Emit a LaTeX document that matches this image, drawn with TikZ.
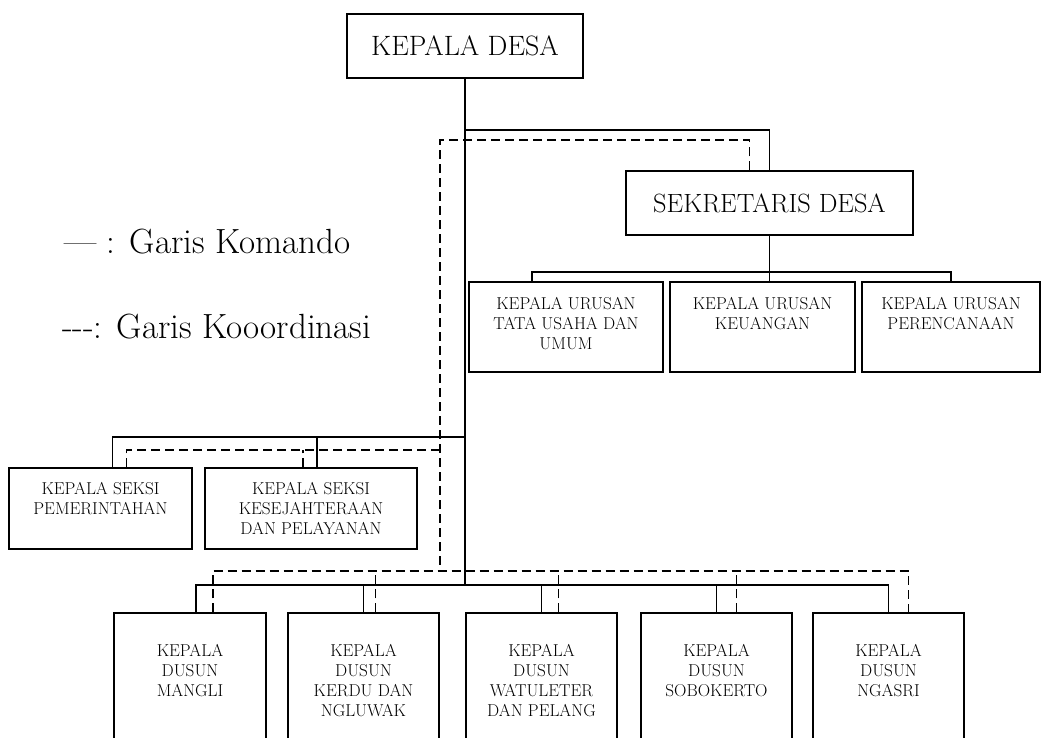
\documentclass[tikz,border=0pt]{standalone}
\usepackage{fontspec}
\usepackage{tikz}
\tikzstyle{unit}=[draw, line width=1.3pt, inner sep=0pt]
\tikzstyle{chief}=[unit, font=\fontsize{28}{33}\selectfont]
\tikzstyle{caption}=[anchor=north, inner sep=0pt, align=center, font=\fontsize{17.2}{20}\selectfont]
\tikzstyle{command}=[line width=1.3pt]
\tikzstyle{coord}=[line width=1.3pt, dash pattern=on 9pt off 5pt]
\tikzstyle{legend}=[anchor=base west, inner sep=0pt, font=\fontsize{35}{42}\selectfont]

\begin{document}
\begin{tikzpicture}[x=1pt, y=-1pt]
        \clip (0,0) rectangle (1043,738);
        \fill[white] (0,0) rectangle (1043,738);
        % legend
        \node[legend] (Lcmd) at (64,253) {\textemdash{} : Garis Komando};
        \node[legend] (Lcoord) at (62,338) {-{}-{}-: Garis Kooordinasi};
        % top
        \node[chief, minimum width=236pt, minimum height=64pt] (KD) at (465,46) {KEPALA DESA};
        \node[chief, minimum width=287pt, minimum height=64pt, font=\fontsize{26.4}{31}\selectfont] (SD) at (769.5,203) {SEKRETARIS DESA};
        % urusan
        \node[unit, minimum width=194pt, minimum height=90pt, label={[caption, yshift=-16pt]north:KEPALA URUSAN\\TATA USAHA DAN\\UMUM}] (KU1) at (566,327) {};
        \node[unit, minimum width=185pt, minimum height=90pt, label={[caption, yshift=-16pt]north:KEPALA URUSAN\\KEUANGAN}] (KU2) at (762.5,327) {};
        \node[unit, minimum width=178pt, minimum height=90pt, label={[caption, yshift=-16pt]north:KEPALA URUSAN\\PERENCANAAN}] (KU3) at (951,327) {};
        % seksi
        \node[unit, minimum width=183pt, minimum height=81pt, label={[caption, yshift=-15pt]north:KEPALA SEKSI\\PEMERINTAHAN}] (KS1) at (100.5,508.5) {};
        \node[unit, minimum width=212pt, minimum height=81pt, label={[caption, yshift=-15pt]north:KEPALA SEKSI\\KESEJAHTERAAN\\DAN PELAYANAN}] (KS2) at (311,508.5) {};
        % dusun
        \node[unit, minimum width=152pt, minimum height=157pt, label={[caption, yshift=-32pt]north:KEPALA\\DUSUN\\MANGLI}] (D1) at (190,691.5) {};
        \node[unit, minimum width=151pt, minimum height=157pt, label={[caption, yshift=-32pt]north:KEPALA\\DUSUN\\KERDU DAN\\NGLUWAK}] (D2) at (363.5,691.5) {};
        \node[unit, minimum width=151pt, minimum height=157pt, label={[caption, yshift=-32pt]north:KEPALA\\DUSUN\\WATULETER\\DAN PELANG}] (D3) at (541.5,691.5) {};
        \node[unit, minimum width=151pt, minimum height=157pt, label={[caption, yshift=-32pt]north:KEPALA\\DUSUN\\SOBOKERTO}] (D4) at (716.5,691.5) {};
        \node[unit, minimum width=151pt, minimum height=157pt, label={[caption, yshift=-32pt]north:KEPALA\\DUSUN\\NGASRI}] (D5) at (888.5,691.5) {};
        % garis komando
        \coordinate (Hsek) at (KD.south |- 0,130);
        \coordinate (Hseksi) at (KD.south |- 0,437);
        \coordinate (Hdusun) at (KD.south |- 0,585);
        \coordinate (Hurusan) at (SD.south |- 0,272);
        \draw[command] (KD.south) -- (Hdusun);
        \draw[command] (Hsek) -| (SD.north);
        \draw[command] (SD.south) -- (SD.south |- KU2.north);
        \draw[command] ([xshift=-34pt]KU1.north) |- (Hurusan) -| (KU3.north);
        \draw[command] ([xshift=12pt]KS1.north) |- (Hseksi);
        \draw[command] ([xshift=6pt]KS2.north) -- ([xshift=6pt]KS2.north |- Hseksi);
        \draw[command] ([xshift=6pt]D1.north) |- (Hdusun) -| (D5.north);
        \foreach \n in {D2,D3,D4}
            \draw[command] (\n.north) -- (\n.north |- Hdusun);
        % garis koordinasi
        \coordinate (Ctop) at (440,140);
        \coordinate (Cbottom) at (440,571);
        \draw[coord] ([xshift=-20pt]SD.north) |- (Ctop) -- (Cbottom);
        \draw[coord] ([xshift=26pt]KS1.north) |- (Ctop |- 0,450);
        \draw[coord] ([xshift=-8pt]KS2.north) -- ([xshift=-8pt]KS2.north |- 0,450);
        \draw[coord] ([xshift=23pt]D1.north) |- ([xshift=20pt]D5.north |- Cbottom) -- ([xshift=20pt]D5.north);
        \foreach \n/\s in {D2/12, D3/17, D4/20}
            \draw[coord] ([xshift=\s pt]\n.north) -- ([xshift=\s pt]\n.north |- Cbottom);
    \end{tikzpicture}
\end{document}
